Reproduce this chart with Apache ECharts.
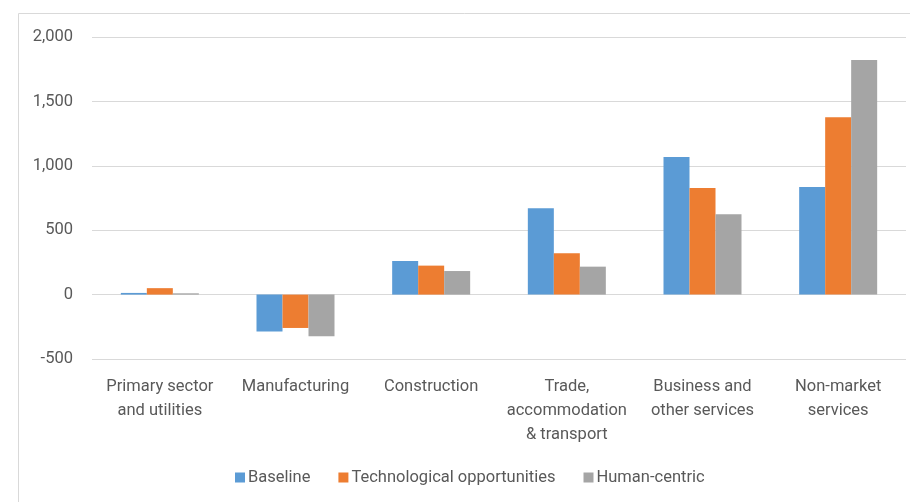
<!DOCTYPE html>
<html>
<head>
<meta charset="utf-8">
<script src="https://cdn.jsdelivr.net/npm/echarts@6/dist/echarts.min.js"></script>
<style>
  html, body { margin: 0; padding: 0; background: #fff; }
  #chart { width: 910px; height: 502px; }
</style>
</head>
<body>
<div id="chart"></div>
<script>
// sectors on the x axis
const categories = [
  'Primary sector\nand utilities',
  'Manufacturing',
  'Construction',
  'Trade,\naccommodation\n& transport',
  'Business and\nother services',
  'Non-market\nservices'
]

const baseline = [13, -287, 261, 670, 1069, 836]
const techOpportunities = [50, -259, 225, 321, 828, 1377]
const humanCentric = [10, -324, 183, 217, 624, 1822]

const yTicks = { min: -500, max: 2000, interval: 500 }

const font = 'Roboto, "Noto Sans", sans-serif'
const textColor = '#595959'
const fontSize = 16.5

const chart = echarts.init(document.getElementById('chart'))

const bar = (name, data, color) => ({
  name,
  type: 'bar',
  data,
  barWidth: 26,
  barGap: '0%',
  itemStyle: { color }
})

chart.setOption({
  animation: false,
  textStyle: { fontFamily: font },
  graphic: [{
    type: 'rect',
    shape: { x: 18.5, y: 13.5, width: 1000, height: 1000 },
    style: { fill: 'none', stroke: '#d9d9d9', lineWidth: 1 },
    silent: true
  }],
  grid: { left: 92, right: 4, top: 37, bottom: 143 },
  legend: {
    left: 230,
    top: 464,
    itemWidth: 10,
    itemHeight: 10,
    itemGap: 28,
    icon: 'rect',
    textStyle: { color: textColor, fontSize, fontFamily: font, padding: [0, 0, 0, -2] },
    data: ['Baseline', 'Technological opportunities', 'Human-centric']
  },
  xAxis: {
    type: 'category',
    data: categories,
    axisLine: { show: false },
    axisTick: { show: false },
    axisLabel: {
      color: textColor,
      fontSize,
      fontFamily: font,
      lineHeight: 24,
      margin: 16,
      interval: 0
    }
  },
  yAxis: {
    type: 'value',
    min: yTicks.min,
    max: yTicks.max,
    interval: yTicks.interval,
    axisLine: { show: false },
    axisTick: { show: false },
    splitLine: { lineStyle: { color: '#d9d9d9', width: 1 } },
    axisLabel: {
      color: textColor,
      fontSize,
      fontFamily: font,
      margin: 19,
      formatter: v => v.toLocaleString('en-US')
    }
  },
  series: [
    bar('Baseline', baseline, '#5B9BD5'),
    bar('Technological opportunities', techOpportunities, '#ED7D31'),
    bar('Human-centric', humanCentric, '#A5A5A5')
  ]
})
</script>
</body>
</html>
